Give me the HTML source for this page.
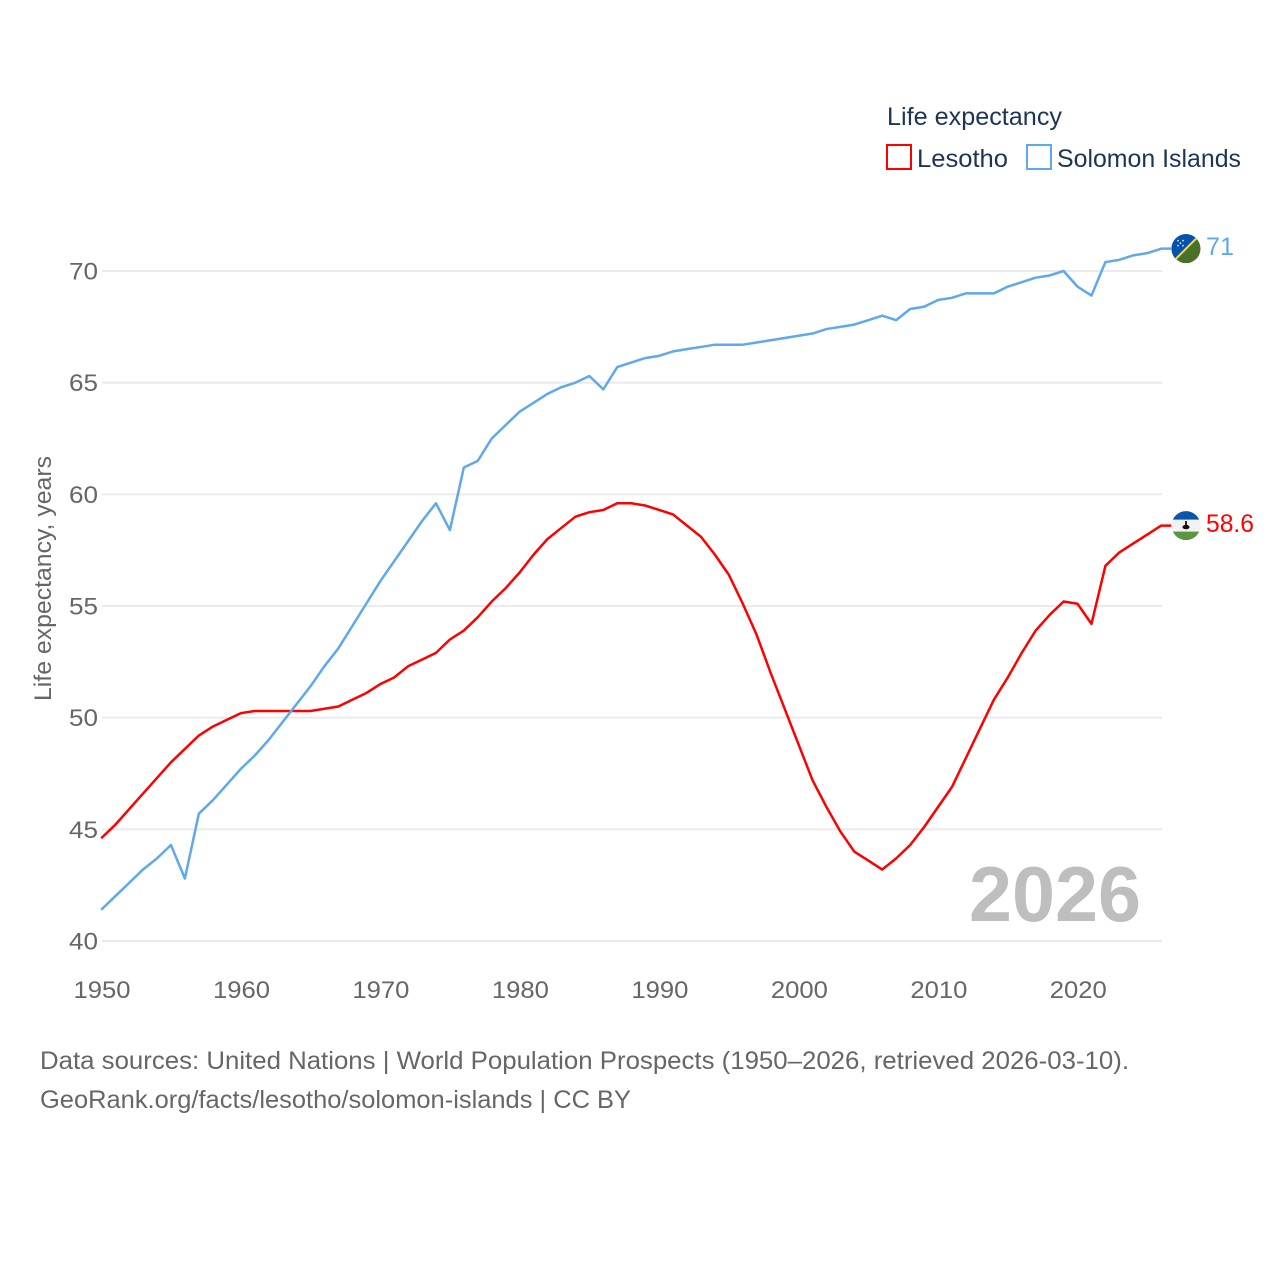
<!DOCTYPE html>
<html lang="en">
<head>
<meta charset="utf-8">
<title>Life expectancy: Lesotho and Solomon Islands</title>
<style>
  html, body { margin: 0; padding: 0; background: #fff; }
  svg { display: block; }
  text { font-family: "Liberation Sans", sans-serif; }
</style>
</head>
<body>
<svg id="chart" xmlns="http://www.w3.org/2000/svg" width="1280" height="1280" viewBox="0 0 1280 1280">
  <rect x="0" y="0" width="1280" height="1280" fill="#fff"/>
  <defs>
    <clipPath id="flag-clip"><circle cx="0" cy="0" r="14.5"/></clipPath>
  </defs>
  <g id="grid"></g>
  <g id="y-ticks"></g>
  <g id="x-ticks"></g>
  <text transform="translate(51,701) rotate(-90)" font-size="24" fill="#666" textLength="245" lengthAdjust="spacingAndGlyphs">Life expectancy, years</text>
  <text x="969" y="921" font-size="78" font-weight="700" fill="#bebebe" textLength="172" lengthAdjust="spacingAndGlyphs">2026</text>

  <path id="line-lesotho" fill="none" stroke="#ff0000" stroke-width="2.5" stroke-linejoin="round"/>
  <path id="line-solomon" fill="none" stroke="#5fa8ee" stroke-width="2.5" stroke-linejoin="round"/>

  <g id="flag-solomon">
    <g clip-path="url(#flag-clip)">
      <rect x="-15" y="-15" width="30" height="30" fill="#4b7029"/>
      <polygon points="-15,-15 15,-15 -15,15" fill="#0651ad"/>
      <line x1="-16" y1="16" x2="16" y2="-16" stroke="#f4d93e" stroke-width="2"/>
      <circle cx="-8" cy="-8" r="0.9" fill="#cfe0f5"/>
      <circle cx="-3" cy="-8" r="0.9" fill="#cfe0f5"/>
      <circle cx="-5.5" cy="-5.5" r="0.9" fill="#cfe0f5"/>
      <circle cx="-8" cy="-3" r="0.9" fill="#cfe0f5"/>
      <circle cx="-3" cy="-3" r="0.9" fill="#cfe0f5"/>
    </g>
  </g>
  <g id="flag-lesotho">
    <g clip-path="url(#flag-clip)">
      <rect x="-15" y="-15" width="30" height="30" fill="#f2f2f2"/>
      <rect x="-15" y="-15" width="30" height="9" fill="#0a55ad"/>
      <rect x="-15" y="6" width="30" height="9" fill="#5d9640"/>
      <rect x="-0.9" y="-4.500" width="1.8" height="5" fill="#111"/>
      <ellipse cx="0" cy="1.500" rx="3.5" ry="2.2" fill="#111"/>
    </g>
  </g>
  <text id="value-solomon" x="1206" font-size="25" fill="#5fa8ee" textLength="28" lengthAdjust="spacingAndGlyphs"></text>
  <text id="value-lesotho" x="1206" font-size="25" fill="#ff0000" textLength="48" lengthAdjust="spacingAndGlyphs"></text>

  <g>
    <text x="887" y="125" font-size="25" fill="#1b3554" textLength="175" lengthAdjust="spacingAndGlyphs">Life expectancy</text>
    <g>
      <rect x="887" y="145" width="24" height="24" fill="#fff" stroke="#ff0000" stroke-width="2"/>
      <text x="917" y="167" font-size="25" fill="#1b3554" textLength="91" lengthAdjust="spacingAndGlyphs">Lesotho</text>
    </g>
    <g>
      <rect x="1027" y="145" width="24" height="24" fill="#fff" stroke="#5fa8ee" stroke-width="2"/>
      <text x="1057" y="167" font-size="25" fill="#1b3554" textLength="184" lengthAdjust="spacingAndGlyphs">Solomon Islands</text>
    </g>
  </g>

  <text x="40" y="1069" font-size="25" fill="#666" textLength="1089" lengthAdjust="spacingAndGlyphs">Data sources: United Nations | World Population Prospects (1950–2026, retrieved 2026-03-10).</text>
  <text x="40" y="1108" font-size="25" fill="#666" textLength="591" lengthAdjust="spacingAndGlyphs">GeoRank.org/facts/lesotho/solomon-islands | CC BY</text>
</svg>
<script>
const startYear = 1950;
const yTickValues = [40, 45, 50, 55, 60, 65, 70];
const xTickValues = [1950, 1960, 1970, 1980, 1990, 2000, 2010, 2020];
const lesothoValues = [
  44.6, 45.2, 45.9, 46.6, 47.3, 48.0, 48.6, 49.2, 49.6, 49.9,
  50.2, 50.3, 50.3, 50.3, 50.3, 50.3, 50.4, 50.5, 50.8, 51.1,
  51.5, 51.8, 52.3, 52.6, 52.9, 53.5, 53.9, 54.5, 55.2, 55.8,
  56.5, 57.3, 58.0, 58.5, 59.0, 59.2, 59.3, 59.6, 59.6, 59.5,
  59.3, 59.1, 58.6, 58.1, 57.3, 56.4, 55.1, 53.7, 52.0, 50.4,
  48.8, 47.2, 46.0, 44.9, 44.0, 43.6, 43.2, 43.7, 44.3, 45.1,
  46.0, 46.9, 48.2, 49.5, 50.8, 51.8, 52.9, 53.9, 54.6, 55.2,
  55.1, 54.2, 56.8, 57.4, 57.8, 58.2, 58.6
];
const solomonValues = [
  41.4, 42.0, 42.6, 43.2, 43.7, 44.3, 42.8, 45.7, 46.3, 47.0,
  47.7, 48.3, 49.0, 49.8, 50.6, 51.4, 52.3, 53.1, 54.1, 55.1,
  56.1, 57.0, 57.9, 58.8, 59.6, 58.4, 61.2, 61.5, 62.5, 63.1,
  63.7, 64.1, 64.5, 64.8, 65.0, 65.3, 64.7, 65.7, 65.9, 66.1,
  66.2, 66.4, 66.5, 66.6, 66.7, 66.7, 66.7, 66.8, 66.9, 67.0,
  67.1, 67.2, 67.4, 67.5, 67.6, 67.8, 68.0, 67.8, 68.3, 68.4,
  68.7, 68.8, 69.0, 69.0, 69.0, 69.3, 69.5, 69.7, 69.8, 70.0,
  69.3, 68.9, 70.4, 70.5, 70.7, 70.8, 71.0
];

const SVG_NS = 'http://www.w3.org/2000/svg';
const plotLeft = 101.2, plotRight = 1161.2, plotBottom = 941, plotTop = 271;
const gridLeft = 102, gridRight = 1162;
const yMin = 40, yMax = 70, xMin = 1950, xMax = 2026;
function xScale(year) { return plotLeft + (year - xMin) * (plotRight - plotLeft) / (xMax - xMin); }
function yScale(v) { return plotBottom - (v - yMin) * (plotBottom - plotTop) / (yMax - yMin); }

const gridGroup = document.getElementById('grid');
const yTickGroup = document.getElementById('y-ticks');
const xTickGroup = document.getElementById('x-ticks');

yTickValues.forEach(function (v) {
  const line = document.createElementNS(SVG_NS, 'line');
  
  
  line.setAttribute('x1', gridLeft);
  line.setAttribute('x2', gridRight);
  line.setAttribute('y1', yScale(v));
  line.setAttribute('y2', yScale(v));
  line.setAttribute('stroke', '#ebebeb');
  line.setAttribute('stroke-width', '2');
  gridGroup.appendChild(line);

  const label = document.createElementNS(SVG_NS, 'text');
  
  
  label.setAttribute('x', 69);
  label.setAttribute('y', yScale(v) + 8.5);
  label.setAttribute('font-size', '24');
  label.setAttribute('fill', '#666');
  label.setAttribute('textLength', '29');
  label.setAttribute('lengthAdjust', 'spacingAndGlyphs');
  label.textContent = String(v);
  yTickGroup.appendChild(label);
});

xTickValues.forEach(function (year) {
  const label = document.createElementNS(SVG_NS, 'text');
  
  
  label.setAttribute('x', xScale(year) - 27.7);
  label.setAttribute('y', 998);
  label.setAttribute('font-size', '24');
  label.setAttribute('fill', '#666');
  label.setAttribute('textLength', '57');
  label.setAttribute('lengthAdjust', 'spacingAndGlyphs');
  label.textContent = String(year);
  xTickGroup.appendChild(label);
});

function linePath(values) {
  const pts = values.map(function (v, i) {
    return xScale(startYear + i).toFixed(2) + ' ' + yScale(v).toFixed(2);
  });
  const lastY = yScale(values[values.length - 1]).toFixed(2);
  return 'M' + pts.join(' L') + ' L' + (plotRight + 10) + ' ' + lastY;
}

document.getElementById('line-lesotho').setAttribute('d', linePath(lesothoValues));
document.getElementById('line-solomon').setAttribute('d', linePath(solomonValues));

function placeEnd(flagId, valueId, values) {
  const last = values[values.length - 1];
  const y = yScale(last);
  document.getElementById(flagId).setAttribute('transform', 'translate(1186,' + y + ')');
  const t = document.getElementById(valueId);
  t.setAttribute('y', y + 6.5);
  t.textContent = String(last);
}
placeEnd('flag-solomon', 'value-solomon', solomonValues);
placeEnd('flag-lesotho', 'value-lesotho', lesothoValues);
</script>
</body>
</html>
